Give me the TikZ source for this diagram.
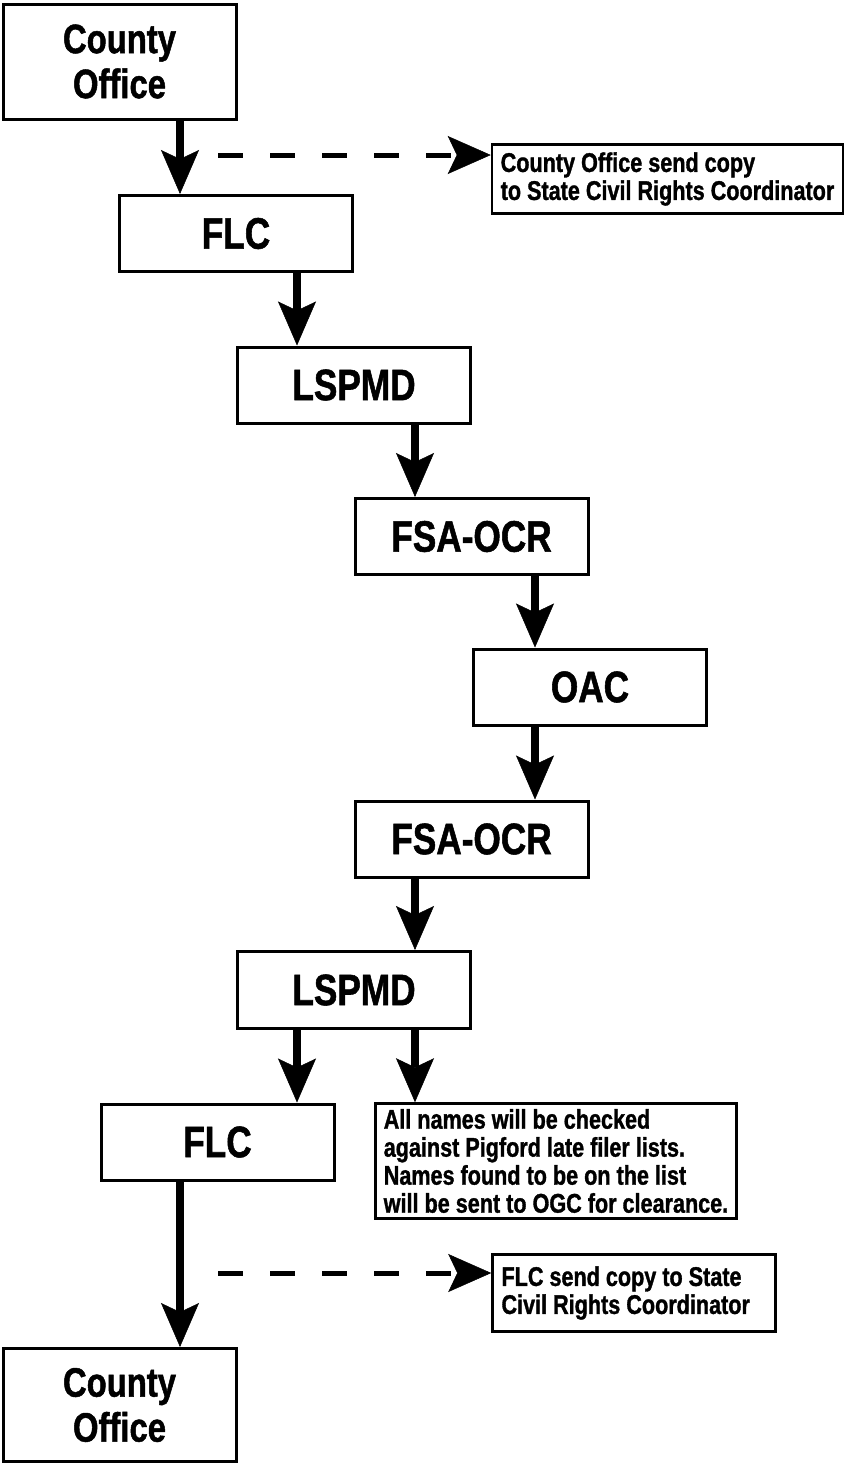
\documentclass[tikz,border=0pt]{standalone}
\usepackage{fontspec}
\setmainfont{Liberation Sans}[FakeStretch=0.8, BoldFeatures={FakeBold=1.2}]
\usetikzlibrary{arrows.meta}
\newcommand\boxfont{\fontsize{44}{47}\selectfont\bfseries}
\newcommand\officefont{\fontsize{41}{45}\selectfont\bfseries}
\newcommand\notefont{\fontsize{27}{28}\selectfont\bfseries}

\begin{document}
\begin{tikzpicture}[x=1pt, y=1pt,
	unit/.style={draw, line width=3pt, minimum width=233pt, minimum height=76pt, inner sep=0pt, align=center, font=\boxfont},
	office/.style={unit, minimum height=115pt, font=\officefont},
	note/.style={draw, line width=2.5pt, inner xsep=6pt, inner ysep=0pt, align=flush left, font=\notefont},
	flow/.style={line width=8pt, -{Stealth[length=44pt, width=38pt, inset=9pt, line width=0.5pt]}},
	copyline/.style={line width=5pt, dash pattern=on 25pt off 27pt, -{Stealth[length=43pt, width=38pt, inset=9pt, line width=0.5pt]}}]
	\useasboundingbox (0, 0) rectangle (845, -1465);
	\coordinate (c1) at (180, 0);
	\coordinate (c2) at (297, 0);
	\coordinate (c3) at (415, 0);
	\coordinate (c4) at (535, 0);
	\coordinate (d1) at (218, -155);
	\coordinate (d2) at (218, -1273);

	\node [office] (co1) at (119.5, -61.5) {County\\Office};
	\node [unit] (flc1) at (236, -233.5) {FLC};
	\node [unit] (lspmd1) at (354, -385) {LSPMD};
	\node [unit] (fsa1) at (471.5, -536.5) {FSA-OCR};
	\node [unit] (oac) at (590, -687) {OAC};
	\node [unit] (fsa2) at (471.5, -839) {FSA-OCR};
	\node [unit, minimum height=77pt] (lspmd2) at (354, -990) {LSPMD};
	\node [unit] (flc2) at (217.5, -1142) {FLC};
	\node [office, minimum height=113pt] (co2) at (119.5, -1405) {County\\Office};

	\node [note, minimum width=351pt, minimum height=69pt] (copy1) at (667.5, -179) {County Office send copy\\to State Civil Rights Coordinator};
	\node [note, minimum width=361pt, minimum height=115pt] (check) at (556, -1161) {All names will be checked\\against Pigford late filer lists.\\Names found to be on the list\\will be sent to OGC for clearance.};
	\node [note, minimum width=283pt, minimum height=77pt, text width=265pt] (copy2) at (634, -1293) {FLC send copy to State\\Civil Rights Coordinator};

	\draw [flow] (co1.south -| c1) -- (flc1.north -| c1);
	\draw [flow] (flc1.south -| c2) -- (lspmd1.north -| c2);
	\draw [flow] (lspmd1.south -| c3) -- (fsa1.north -| c3);
	\draw [flow] (fsa1.south -| c4) -- (oac.north -| c4);
	\draw [flow] (oac.south -| c4) -- (fsa2.north -| c4);
	\draw [flow] (fsa2.south -| c3) -- (lspmd2.north -| c3);
	\draw [flow] (lspmd2.south -| c2) -- (flc2.north -| c2);
	\draw [flow] (lspmd2.south -| c3) -- (check.north -| c3);
	\draw [flow] (flc2.south -| c1) -- (co2.north -| c1);
	\draw [copyline] (d1) -- (d1 -| copy1.west);
	\draw [copyline] (d2) -- (d2 -| copy2.west);
\end{tikzpicture}
\end{document}
